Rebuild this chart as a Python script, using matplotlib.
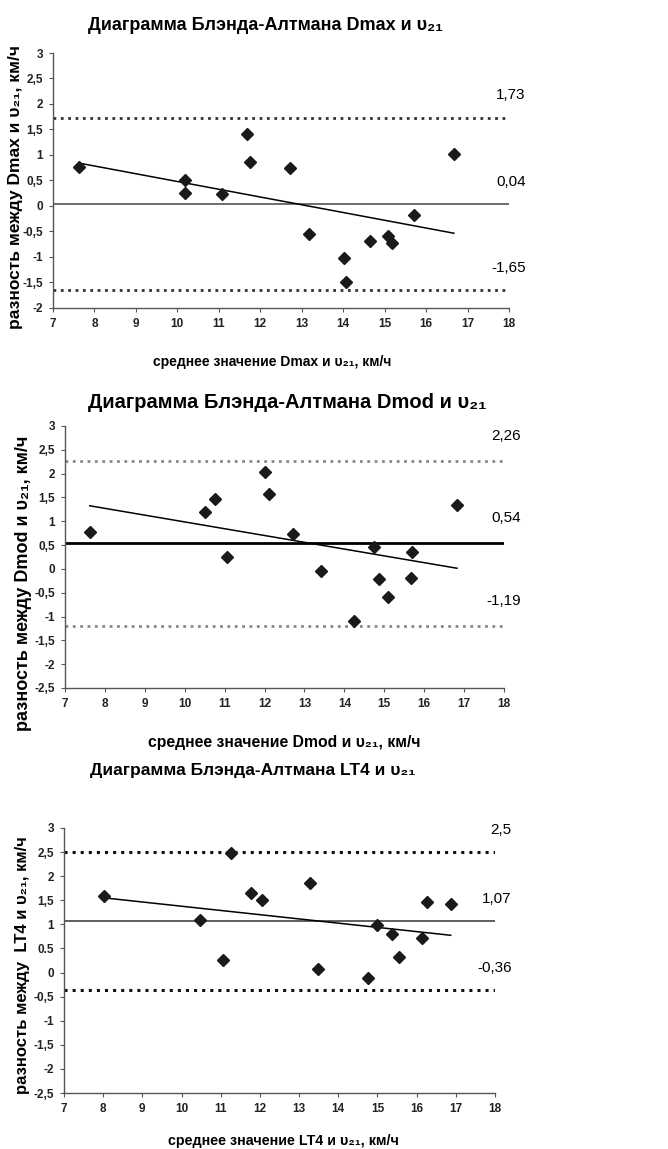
import numpy as np
import matplotlib
matplotlib.use('Agg')
import matplotlib.pyplot as plt
from matplotlib.ticker import FixedLocator, FixedFormatter

plt.rcParams['font.family'] = ['Liberation Sans', 'DejaVu Sans']

# panel 1: Dmax vs v21
dmax_mean = [7.63, 10.18, 10.18, 11.07, 11.68, 11.76, 12.72, 13.18, 14.02,
             14.07, 14.65, 15.09, 15.18, 15.70, 16.67]
dmax_diff = [0.76, 0.50, 0.25, 0.23, 1.42, 0.87, 0.74, -0.55, -1.02,
             -1.50, -0.69, -0.58, -0.73, -0.17, 1.02]
dmax_lines = [1.73, 0.04, -1.65]

# panel 2: Dmod vs v21
dmod_mean = [7.62, 10.51, 10.75, 11.07, 12.0, 12.12, 12.72, 13.42, 14.25,
             14.75, 14.88, 15.09, 15.70, 15.68, 16.82]
dmod_diff = [0.77, 1.20, 1.46, 0.24, 2.03, 1.58, 0.74, -0.05, -1.10,
             0.47, -0.21, -0.60, 0.36, -0.19, 1.34]
dmod_lines = [2.26, 0.54, -1.19]

# panel 3: LT4 vs v21
lt4_mean = [8.02, 10.47, 11.06, 11.25, 11.78, 12.06, 13.27, 13.47, 14.76,
            14.99, 15.38, 15.54, 16.14, 16.27, 16.87]
lt4_diff = [1.59, 1.10, 0.27, 2.48, 1.65, 1.50, 1.85, 0.07, -0.11,
            0.98, 0.81, 0.33, 0.72, 1.47, 1.43]
lt4_lines = [2.5, 1.07, -0.36]

x_ticks = list(range(7, 19))
y_ticks1 = [-2, -1.5, -1, -0.5, 0, 0.5, 1, 1.5, 2, 2.5, 3]
y_labels1 = ['-2', '-1,5', '-1', '-0,5', '0', '0,5', '1', '1,5', '2', '2,5', '3']
y_ticks2 = [-2.5] + y_ticks1
y_labels2 = ['-2,5'] + y_labels1
y_labels3 = ['-2,5', '-2', '-1,5', '-1', '-0,5', '0', '0.5', '1', '1,5', '2', '2,5', '3']

W, H = 668, 1149


def px_axes(fig, left, top, right, bottom):
    return fig.add_axes([left / W, 1 - bottom / H, (right - left) / W, (bottom - top) / H])


def draw_panel(ax, x, y, lines, yticks, ylabels, ylim, limit_style, mean_style, label_dy):
    upper, mean, lower = lines
    ax.axhline(upper, **limit_style)
    ax.axhline(lower, **limit_style)
    ax.axhline(mean, **mean_style)
    ax.plot(x, y, 'D', color='#1a1a1a', ms=6, zorder=5)
    # linear trend through the points
    k, b = np.polyfit(x, y, 1)
    xs = np.array([min(x), max(x)])
    ax.plot(xs, k * xs + b, color='black', lw=1.1, zorder=4)
    ax.set_xlim(7, 18)
    ax.set_ylim(*ylim)
    ax.xaxis.set_major_locator(FixedLocator(x_ticks))
    ax.yaxis.set_major_locator(FixedLocator(yticks))
    ax.yaxis.set_major_formatter(FixedFormatter(ylabels))
    for s in ['top', 'right']:
        ax.spines[s].set_visible(False)
    for s in ['left', 'bottom']:
        ax.spines[s].set_color('#555555')
        ax.spines[s].set_linewidth(1.0)
    ax.tick_params(direction='out', length=3, width=0.8, color='#555555',
                   labelsize=8.5, pad=4)
    for lab in ax.get_xticklabels() + ax.get_yticklabels():
        lab.set_fontweight('bold')
        lab.set_color('#222222')
    for v in lines:
        ax.annotate(f'{v}'.replace('.', ','), xy=(1.0, v), xycoords=('axes fraction', 'data'),
                    xytext=(12, label_dy), textcoords='offset points',
                    ha='right', va='bottom', fontsize=11)


fig = plt.figure(figsize=(W / 100, H / 100), dpi=100)

ax1 = px_axes(fig, 53, 53, 509, 308)
draw_panel(ax1, dmax_mean, dmax_diff, dmax_lines, y_ticks1, y_labels1, (-2, 3),
           dict(color='#333333', ls=':', lw=2.0),
           dict(color='#555555', lw=1.2), 11)

ax2 = px_axes(fig, 65, 426, 504, 688)
draw_panel(ax2, dmod_mean, dmod_diff, dmod_lines, y_ticks2, y_labels2, (-2.5, 3),
           dict(color='#888888', ls=':', lw=2.0),
           dict(color='black', lw=2.0), 13)

ax3 = px_axes(fig, 64, 828, 495, 1093)
draw_panel(ax3, lt4_mean, lt4_diff, lt4_lines, y_ticks2, y_labels3, (-2.5, 3),
           dict(color='#111111', ls=':', lw=2.2),
           dict(color='#444444', lw=1.2), 11)

# titles
fig.text(265 / W, 1 - 25 / H, 'Диаграмма Блэнда-Алтмана Dmax и υ₂₁',
         ha='center', va='center', fontsize=13, fontweight='bold')
fig.text(287 / W, 1 - 402 / H, 'Диаграмма Блэнда-Алтмана Dmod и υ₂₁',
         ha='center', va='center', fontsize=14.5, fontweight='bold')
fig.text(253 / W, 1 - 770 / H, 'Диаграмма Блэнда-Алтмана LT4 и υ₂₁',
         ha='center', va='center', fontsize=12.5, fontweight='bold')

# x labels
fig.text(272 / W, 1 - 362 / H, 'среднее значение Dmax и υ₂₁, км/ч',
         ha='center', va='center', fontsize=10, fontweight='bold')
fig.text(284 / W, 1 - 742 / H, 'среднее значение Dmod и υ₂₁, км/ч',
         ha='center', va='center', fontsize=11.3, fontweight='bold')
fig.text(283 / W, 1 - 1141 / H, 'среднее значение LT4 и υ₂₁, км/ч',
         ha='center', va='center', fontsize=10.3, fontweight='bold')

# y labels
fig.text(16 / W, 1 - 187 / H, 'разность между Dmax и υ₂₁, км/ч', rotation=90,
         ha='center', va='center', fontsize=12.5, fontweight='bold')
fig.text(24 / W, 1 - 583 / H, 'разность между Dmod и υ₂₁, км/ч', rotation=90,
         ha='center', va='center', fontsize=13, fontweight='bold')
fig.text(23 / W, 1 - 965 / H, 'разность между  LT4 и υ₂₁, км/ч', rotation=90,
         ha='center', va='center', fontsize=12, fontweight='bold')

fig.savefig('out.png', dpi=100)
